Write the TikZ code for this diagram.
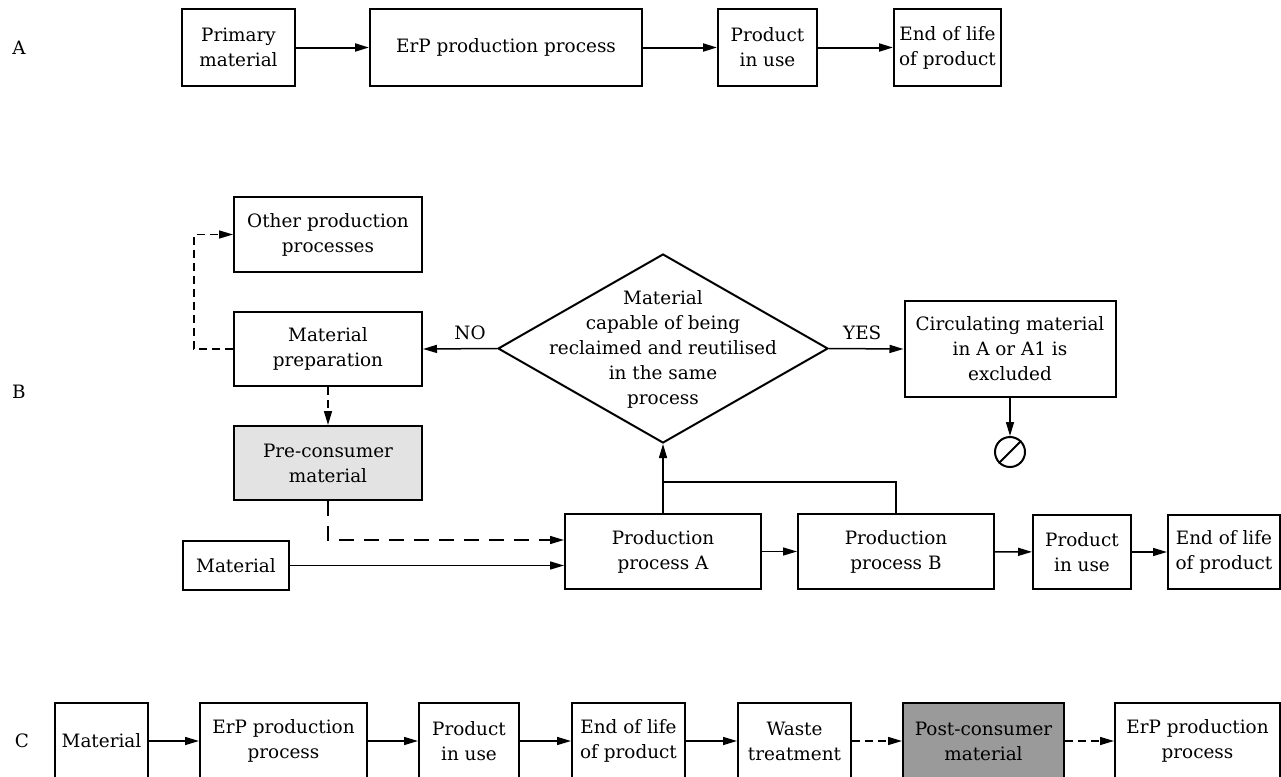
\documentclass[tikz,border=0pt]{standalone}
\usepackage{fontspec}
\setmainfont{DejaVu Serif}
\usepackage{tikz}
\usetikzlibrary{shapes.geometric,arrows.meta,calc}
\definecolor{preconsumer}{HTML}{E3E3E3}
\definecolor{postconsumer}{HTML}{9A9A9A}
\tikzstyle{box} = [rectangle, draw, line width=1pt, align=center, inner sep=0pt]
\tikzstyle{decision} = [diamond, draw, line width=1pt, inner sep=0pt,
    minimum width=165pt, minimum height=94.5pt]
\tikzstyle{arrow} = [-{Triangle[length=7pt,width=4pt]}, line width=0.75pt]
\tikzstyle{thickarrow} = [arrow, line width=1pt]
\tikzstyle{dasharrow} = [arrow, dash pattern=on 4pt off 2.5pt]
\tikzstyle{longdasharrow} = [arrow, dash pattern=on 7.5pt off 5pt]
\tikzstyle{link} = [line width=0.75pt]

\begin{document}
\begin{tikzpicture}[x=0.5pt, y=-0.5pt, font=\fontsize{9.2}{12.5}\selectfont]
\useasboundingbox (0,0) rectangle (1281,777);

% row A
\node (labA) at (19,48) {A};
\node[box, minimum width=56.5pt, minimum height=38.5pt] (primat) at (238.5,47.5) {Primary\\material};
\node[box, minimum width=136pt, minimum height=38.5pt] (erpA) at (506,47.5) {ErP production process};
\node[box, minimum width=49.5pt, minimum height=38.5pt] (useA) at (767.5,47.5) {Product\\in use};
\node[box, minimum width=53.5pt, minimum height=38.5pt] (eolA) at (947.5,47.5) {End of life\\of product};
\draw[thickarrow] (primat) -- (erpA);
\draw[thickarrow] (erpA) -- (useA);
\draw[thickarrow] (useA) -- (eolA);

% row B
\node (labB) at (19,392) {B};
\node[box, minimum width=94pt, minimum height=37.5pt] (other) at (328,234.5) {Other production\\processes};
\node[box, minimum width=94pt, minimum height=37pt] (prep) at (328,349) {Material\\preparation};
\node[box, fill=preconsumer, minimum width=94pt, minimum height=37pt] (pre) at (328,463) {Pre-consumer\\material};
\node[decision] (check) at (663,348.5) {};
\node[align=center] (checktext) at (663,349) {Material\\capable of being\\reclaimed and reutilised\\in the same\\process};
\node[box, minimum width=105.5pt, minimum height=48pt] (circ) at (1010,349) {Circulating material\\in A or A1 is\\excluded};
\node[circle, draw, line width=1pt, minimum size=15pt, inner sep=0pt] (stop) at (1010,452) {};
\node[box, minimum width=53pt, minimum height=24.5pt] (matB) at (236,565.5) {Material};
\node[box, minimum width=98pt, minimum height=37.5pt] (prodA) at (663,551.5) {Production\\process A};
\node[box, minimum width=98pt, minimum height=37.5pt] (prodB) at (896,551.5) {Production\\process B};
\node[box, minimum width=49pt, minimum height=37pt] (useB) at (1082,552) {Product\\in use};
\node[box, minimum width=56pt, minimum height=37pt] (eolB) at (1224,552) {End of life\\of product};
\coordinate (merge) at (663,482);

\draw[arrow] (check.west) -- node[above=1pt, xshift=5pt] (no) {NO} (prep.east);
\draw[arrow] (check.east) -- node[above=1pt, xshift=-2pt] (yes) {YES} (circ.west);
\draw[arrow] (circ.south) -- (stop.north);
\draw[link, line width=1pt] (stop.225) -- (stop.45);
\draw[dasharrow] (prep.west) -- ++(-39,0) |- (other.west);
\draw[dasharrow] (prep.south) -- (pre.north);
\draw[longdasharrow] (pre.south) |- ([yshift=5.75pt]prodA.west);
\draw[arrow] (matB.east) -- (matB.east -| prodA.west);
\draw[arrow] (prodA.north) -- (check.south);
\draw[link] (prodB.north) |- (merge);
\draw[arrow] (prodA) -- (prodB);
\draw[arrow] (prodB) -- (useB);
\draw[arrow] (useB) -- (eolB);

% row C
\node (labC) at (22,741) {C};
\node[box, minimum width=46.5pt, minimum height=38pt] (matC) at (101.5,741) {Material};
\node[box, minimum width=83.5pt, minimum height=38pt] (erpC) at (283.5,741) {ErP production\\process};
\node[box, minimum width=50pt, minimum height=38pt] (useC) at (469,741) {Product\\in use};
\node[box, minimum width=56.5pt, minimum height=38pt] (eolC) at (628.5,741) {End of life\\of product};
\node[box, minimum width=56.5pt, minimum height=38pt] (waste) at (794.5,741) {Waste\\treatment};
\node[box, fill=postconsumer, minimum width=80.5pt, minimum height=38pt] (post) at (983.5,741) {Post-consumer\\material};
\node[box, minimum width=82.5pt, minimum height=38pt] (erpC2) at (1197.5,741) {ErP production\\process};
\draw[arrow] (matC) -- (erpC);
\draw[arrow] (erpC) -- (useC);
\draw[arrow] (useC) -- (eolC);
\draw[arrow] (eolC) -- (waste);
\draw[dasharrow] (waste) -- (post);
\draw[dasharrow] (post) -- (erpC2);
\end{tikzpicture}
\end{document}
